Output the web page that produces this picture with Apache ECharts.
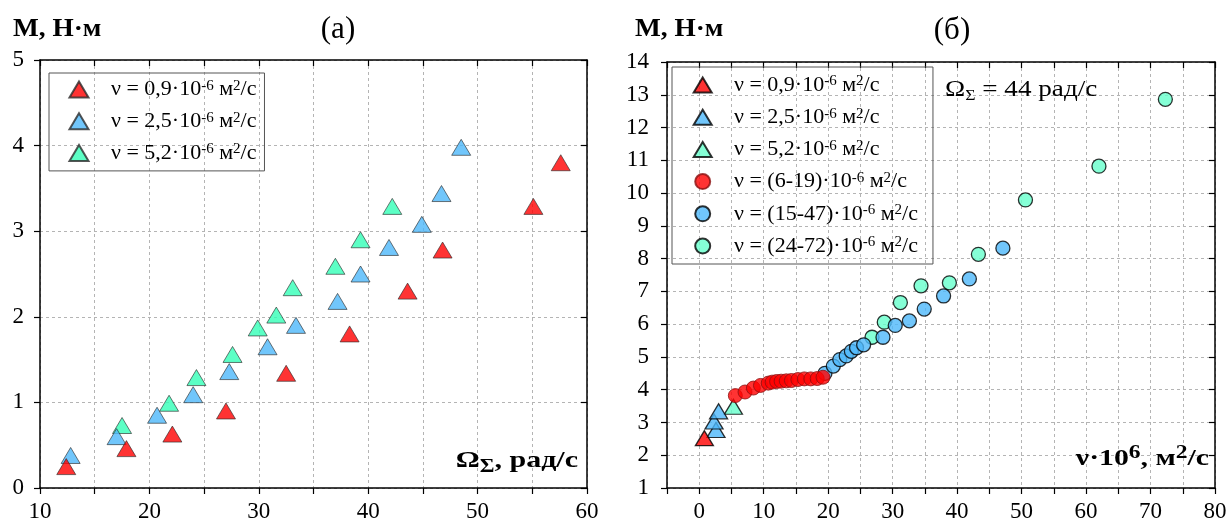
<!DOCTYPE html>
<html>
<head>
<meta charset="utf-8">
<script src="https://cdn.jsdelivr.net/npm/echarts@6/dist/echarts.min.js"></script>
<style>
	html, body { margin: 0; padding: 0; background: #fff; }
	#chart { width: 1230px; height: 526px; }
</style>
</head>
<body>
<div id="chart"></div>
<script>
	// (а) M(Ω) при трёх вязкостях
	var omegaRed = [12.4, 17.9, 22.1, 27.0, 32.5, 38.3, 43.6, 46.8, 55.1, 57.6];
	var momentRed = [0.25, 0.46, 0.63, 0.90, 1.34, 1.80, 2.30, 2.78, 3.29, 3.80];
	var omegaBlue = [12.8, 17.0, 20.7, 24.0, 27.3, 30.8, 33.4, 37.2, 39.3, 41.9, 44.9, 46.7, 48.5];
	var momentBlue = [0.38, 0.60, 0.85, 1.09, 1.36, 1.65, 1.90, 2.18, 2.50, 2.81, 3.08, 3.44, 3.98];
	var omegaGreen = [17.5, 21.8, 24.3, 27.6, 29.9, 31.6, 33.1, 37.0, 39.3, 42.2];
	var momentGreen = [0.73, 0.99, 1.29, 1.56, 1.87, 2.02, 2.34, 2.59, 2.90, 3.29];

	// (б) M(ν) при Ω = 44 рад/с
	var nuTriRed = [0.8];
	var mTriRed = [2.52];
	var nuTriBlue = [2.6, 2.3, 3.0];
	var mTriBlue = [2.77, 3.03, 3.34];
	var nuTriGreen = [5.3];
	var mTriGreen = [3.48];
	var nuCircRed = [5.6, 7.1, 8.4, 9.5, 10.7, 11.3, 12.0, 12.7, 13.5, 14.3, 15.3, 16.3, 17.3, 18.3, 19.2];
	var mCircRed = [3.82, 3.93, 4.05, 4.13, 4.20, 4.23, 4.25, 4.26, 4.27, 4.28, 4.31, 4.33, 4.33, 4.34, 4.38];
	var nuCircBlue = [19.5, 20.8, 21.8, 22.8, 23.6, 24.4, 25.5, 28.5, 30.4, 32.6, 34.9, 37.9, 41.9, 47.1];
	var mCircBlue = [4.50, 4.72, 4.92, 5.03, 5.17, 5.28, 5.37, 5.60, 5.96, 6.10, 6.46, 6.86, 7.38, 8.32];
	var nuCircGreen = [26.8, 28.7, 31.2, 34.4, 38.8, 43.3, 50.6, 62.0, 72.3];
	var mCircGreen = [5.60, 6.06, 6.66, 7.17, 7.26, 8.13, 9.79, 10.82, 12.86];

	// подписи легенды
	var legendKeys = ['t1', 't2', 't3', 'c1', 'c2', 'c3'];
	var legendLabels = [
		'ν = 0,9·10{s|-6} м{s|2}/с',
		'ν = 2,5·10{s|-6} м{s|2}/с',
		'ν = 5,2·10{s|-6} м{s|2}/с',
		'ν = (6-19)·10{s|-6} м{s|2}/с',
		'ν = (15-47)·10{s|-6} м{s|2}/с',
		'ν = (24-72)·10{s|-6} м{s|2}/с'
	];

	var serif = 'Liberation Serif';
	var cRed = '#ff0000', cBlue = '#4db8fa', cGreen = '#33ffb6', cGreen2 = '#66ffcc';

	function zip(xs, ys) {
		return xs.map(function(x, i) { return [x, ys[i]]; });
	}

	function legendFormat(name) {
		return legendLabels[legendKeys.indexOf(name)];
	}

	function legendText(padLeft) {
		return {
			fontFamily: serif,
			fontSize: 22,
			color: '#000',
			lineHeight: 22,
			padding: [0, 0, 0, padLeft],
			rich: {
				s: { fontFamily: serif, fontSize: 15, lineHeight: 7, verticalAlign: 'top' }
			}
		};
	}

	// оси: нижняя/левая с подписями, верхняя/правая - только засечки внутрь
	function axisMain(grid, min, max, step, labelStep, margin) {
		return {
			gridIndex: grid, type: 'value', min: min, max: max, interval: step,
			axisLine: { onZero: false, lineStyle: { color: '#000', width: 1.5 } },
			axisTick: { length: 6, lineStyle: { color: '#000', width: 1.2 } },
			axisLabel: {
				color: '#000', fontFamily: serif, fontSize: 23, margin: margin,
				formatter: function(v) { return (v % labelStep === 0) ? String(v) : ''; }
			},
			splitLine: { show: true, lineStyle: { color: '#b4b4b4', type: [3, 3], width: 1 } }
		};
	}
	function axisMirror(grid, min, max, step, pos) {
		return {
			gridIndex: grid, type: 'value', min: min, max: max, interval: step, position: pos,
			axisLine: { onZero: false, lineStyle: { color: '#000', width: 1.5 } },
			axisTick: { inside: true, length: 6, lineStyle: { color: '#000', width: 1.2 } },
			axisLabel: { show: false },
			splitLine: { show: false }
		};
	}

	var triBorder = { borderColor: '#2a2a2a', borderWidth: 0.8 };
	var circBorder = { borderColor: '#000', borderWidth: 1.3 };

	var myChart = echarts.init(document.getElementById('chart'));
	var option = {
		animation: false,
		grid: [
			{ left: 40, top: 60, width: 547, height: 428 },
			{ left: 667, top: 62, width: 548, height: 426 }
		],
		xAxis: [
			axisMain(0, 10, 60, 5, 10, 12),
			axisMirror(0, 10, 60, 5, 'top'),
			axisMain(1, -5, 80, 5, 10, 12),
			axisMirror(1, -5, 80, 5, 'top')
		],
		yAxis: [
			axisMain(0, 0, 5, 1, 1, 16),
			axisMirror(0, 0, 5, 1, 'right'),
			axisMain(1, 1, 14, 1, 1, 18),
			axisMirror(1, 1, 14, 1, 'right')
		],
		legend: [{
			data: legendKeys.slice(0, 3),
			orient: 'vertical', left: 49, top: 73,
			padding: [5.5, 8, 7, 19.5],
			itemWidth: 19, itemHeight: 16, itemGap: 9.7,
			borderColor: '#555', borderWidth: 1,
			selectedMode: false,
			formatter: legendFormat,
			textStyle: legendText(17.5)
		}, {
			data: legendKeys.map(function(k) { return k.charAt(0) === 't' ? 'r' + k : k; }),
			orient: 'vertical', left: 672, top: 67,
			padding: [7, 15, 7, 20.7],
			itemWidth: 18, itemHeight: 15, itemGap: 10.2,
			borderColor: '#555', borderWidth: 1,
			selectedMode: false,
			formatter: function(name) { return legendFormat(name.charAt(0) === 'r' ? name.slice(1) : name); },
			textStyle: legendText(17.3)
		}],
		series: [
			// (а)
			{ name: 't3', type: 'scatter', xAxisIndex: 0, yAxisIndex: 0, symbol: 'triangle', symbolSize: [19, 16],
				itemStyle: Object.assign({ color: cGreen }, triBorder), data: zip(omegaGreen, momentGreen) },
			{ name: 't2', type: 'scatter', xAxisIndex: 0, yAxisIndex: 0, symbol: 'triangle', symbolSize: [19, 16],
				itemStyle: Object.assign({ color: cBlue }, triBorder), data: zip(omegaBlue, momentBlue) },
			{ name: 't1', type: 'scatter', xAxisIndex: 0, yAxisIndex: 0, symbol: 'triangle', symbolSize: [19, 16],
				itemStyle: Object.assign({ color: cRed }, triBorder), data: zip(omegaRed, momentRed) },
			// (б)
			{ name: 'c3', type: 'scatter', xAxisIndex: 2, yAxisIndex: 2, symbol: 'circle', symbolSize: 14,
				itemStyle: Object.assign({ color: cGreen2 }, circBorder), data: zip(nuCircGreen, mCircGreen) },
			{ name: 'c2', type: 'scatter', xAxisIndex: 2, yAxisIndex: 2, symbol: 'circle', symbolSize: 14,
				itemStyle: Object.assign({ color: cBlue }, circBorder), data: zip(nuCircBlue, mCircBlue) },
			{ name: 'rt3', type: 'scatter', xAxisIndex: 2, yAxisIndex: 2, symbol: 'triangle', symbolSize: [18, 15],
				itemStyle: Object.assign({ color: cGreen2 }, circBorder), data: zip(nuTriGreen, mTriGreen) },
			{ name: 'rt2', type: 'scatter', xAxisIndex: 2, yAxisIndex: 2, symbol: 'triangle', symbolSize: [18, 15],
				itemStyle: Object.assign({ color: cBlue }, circBorder), data: zip(nuTriBlue, mTriBlue) },
			{ name: 'rt1', type: 'scatter', xAxisIndex: 2, yAxisIndex: 2, symbol: 'triangle', symbolSize: [18, 15],
				itemStyle: Object.assign({ color: cRed }, circBorder), data: zip(nuTriRed, mTriRed) },
			{ name: 'c1', type: 'scatter', xAxisIndex: 2, yAxisIndex: 2, symbol: 'circle', symbolSize: 14,
				itemStyle: { color: cRed, borderColor: '#8a1010', borderWidth: 1 }, data: zip(nuCircRed, mCircRed) }
		],
		graphic: [
			{ type: 'text', x: 13, y: 29, scaleX: 1.05, style: { text: 'M, Н·м', fontFamily: serif, fontSize: 26, fontWeight: 'bold', fill: '#000', verticalAlign: 'middle' } },
			{ type: 'text', x: 635, y: 29, scaleX: 1.05, style: { text: 'M, Н·м', fontFamily: serif, fontSize: 26, fontWeight: 'bold', fill: '#000', verticalAlign: 'middle' } },
			{ type: 'text', x: 338, y: 30, style: { text: '(а)', fontFamily: serif, fontSize: 31, fill: '#000', align: 'center', verticalAlign: 'middle' } },
			{ type: 'text', x: 952, y: 31, style: { text: '(б)', fontFamily: serif, fontSize: 31, fill: '#000', align: 'center', verticalAlign: 'middle' } },
			{ type: 'text', x: 578, y: 461, z: 10, scaleX: 1.25, style: {
				text: 'Ω{b|Σ}, рад/с', fontFamily: serif, fontSize: 24, fontWeight: 'bold', fill: '#000',
				align: 'right', verticalAlign: 'middle', lineHeight: 30,
				rich: { b: { fontFamily: serif, fontSize: 18, fontWeight: 'bold', lineHeight: 15, verticalAlign: 'bottom' } }
			} },
			{ type: 'text', x: 1209, y: 459, z: 10, scaleX: 1.24, style: {
				text: 'ν·10{s|6}, м{s|2}/с', fontFamily: serif, fontSize: 24, fontWeight: 'bold', fill: '#000',
				align: 'right', verticalAlign: 'middle', lineHeight: 30,
				rich: { s: { fontFamily: serif, fontSize: 19, fontWeight: 'bold', lineHeight: 15, verticalAlign: 'top' } }
			} },
			{ type: 'text', x: 945, y: 90, z: 10, scaleX: 1.18, style: {
				text: 'Ω{b|Σ} = 44 рад/с', fontFamily: serif, fontSize: 23, fill: '#000',
				verticalAlign: 'middle', lineHeight: 27,
				rich: { b: { fontFamily: serif, fontSize: 15, lineHeight: 13, verticalAlign: 'bottom' } }
			} }
		]
	};
	myChart.setOption(option);
</script>
</body>
</html>
